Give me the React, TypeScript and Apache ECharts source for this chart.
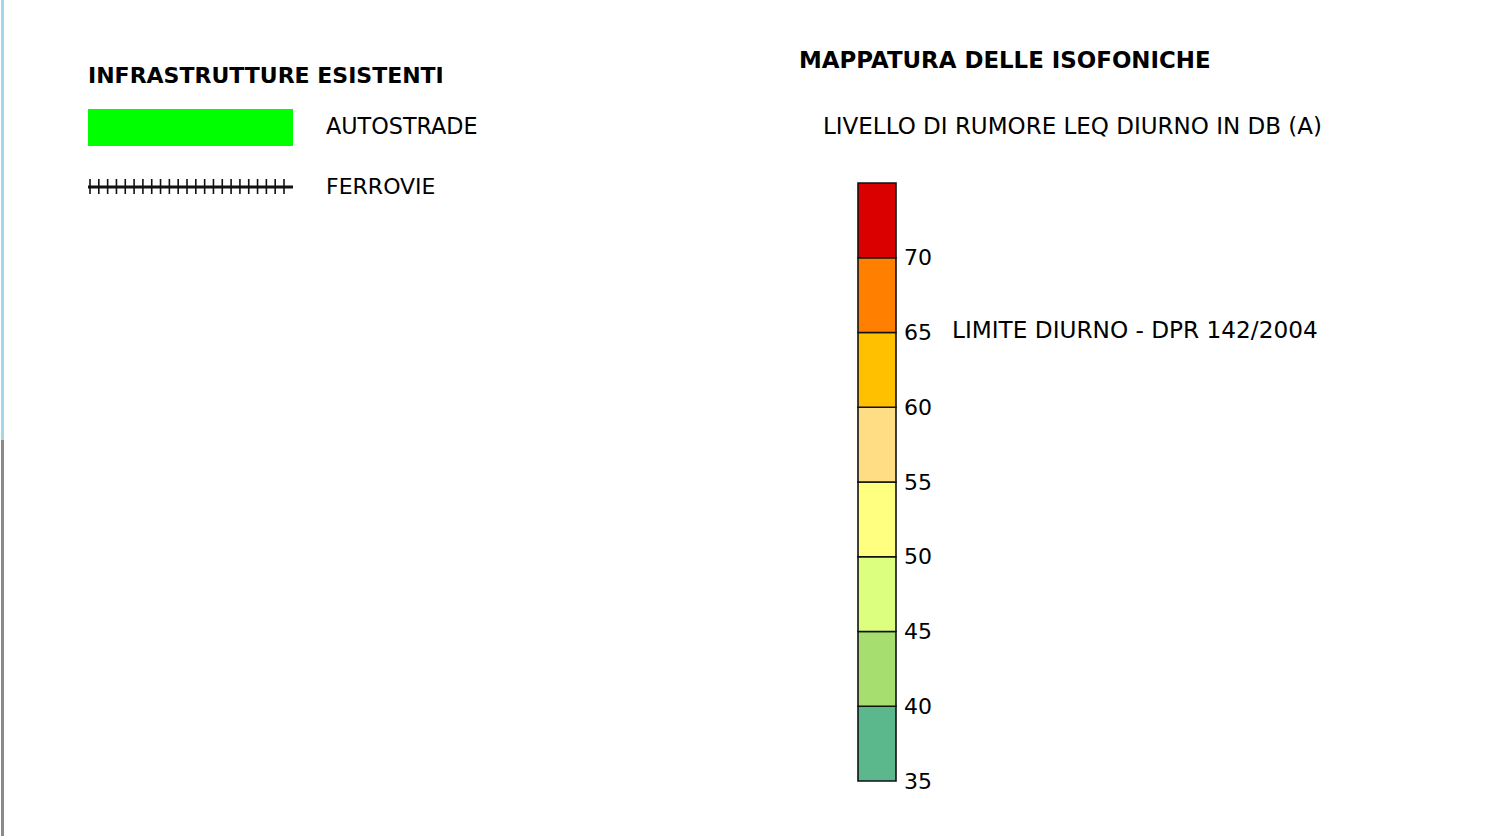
import React, { useEffect, useRef } from "react";
import * as echarts from "echarts";

const bandLower = [35, 40, 45, 50, 55, 60, 65, 70];
const bandUpper = [40, 45, 50, 55, 60, 65, 70, 75];
const bandColors = ["#5ab88c", "#a6de70", "#dcff80", "#ffff80", "#ffdd85", "#ffc000", "#ff8000", "#da0000"];
const tickValues = [35, 40, 45, 50, 55, 60, 65, 70];
const legendTitle = "INFRASTRUTTURE ESISTENTI";
const legendItems = ["AUTOSTRADE", "FERROVIE"];
const mapTitle = "MAPPATURA DELLE ISOFONICHE";
const mapSubtitle = "LIVELLO DI RUMORE LEQ DIURNO IN DB (A)";
const limitLabel = "LIMITE DIURNO - DPR 142/2004";
const limitValue = 65;

const FONT = "'DejaVu Sans', sans-serif";

export default function App() {
  const ref = useRef<HTMLDivElement>(null);
  useEffect(() => {
    document.body.style.margin = "0";
    const chart = echarts.init(ref.current!, null, { renderer: "svg" });
    const ties: any[] = [];
    const tieCount = 23;
    for (let i = 0; i < tieCount; i++) {
      const x = 90 + i * (194 / (tieCount - 1));
      ties.push({ id: "tie" + i, type: "line", shape: { x1: x, y1: 179, x2: x, y2: 194 }, style: { stroke: "#111", lineWidth: 1.6 } });
    }
    chart.setOption({
      animation: false,
      grid: { left: 858, top: 183, width: 38, height: 598 },
      xAxis: { type: "value", min: 0, max: 1, show: false },
      yAxis: {
        type: "value",
        min: 35,
        max: 75,
        interval: 5,
        position: "right",
        axisLine: { show: false },
        axisTick: { show: false },
        splitLine: { show: false },
        axisLabel: {
          fontSize: 22,
          color: "#000",
          margin: 8,
          fontFamily: FONT,
          formatter: (v: number) => (tickValues.includes(v) ? String(v) : ""),
        },
      },
      series: [
        {
          type: "custom",
          data: bandLower.map((lo, i) => [lo, bandUpper[i], i]),
          renderItem: (params: any, api: any) => {
            const lo = api.value(0);
            const hi = api.value(1);
            const idx = api.value(2);
            const p1 = api.coord([0, hi]);
            const p2 = api.coord([1, lo]);
            return {
              type: "rect",
              shape: { x: p1[0], y: p1[1], width: p2[0] - p1[0], height: p2[1] - p1[1] },
              style: { fill: bandColors[idx], stroke: "#111", lineWidth: 1.6 },
            };
          },
        },
      ],
      graphic: [
        { id: "edgeTop", type: "rect", shape: { x: 1, y: 0, width: 3, height: 440 }, style: { fill: "#a3d6e6" } },
        { id: "edgeBot", type: "rect", shape: { x: 1, y: 440, width: 3, height: 396 }, style: { fill: "#8a8a8a" } },
        {
          id: "legTitle",
          type: "text",
          x: 88,
          y: 75,
          style: { text: legendTitle, font: `bold 22px ${FONT}`, fill: "#000", textVerticalAlign: "middle" },
        },
        { id: "roadRect", type: "rect", shape: { x: 88, y: 109, width: 205, height: 37 }, style: { fill: "#00ff00" } },
        {
          id: "roadText",
          type: "text",
          x: 326,
          y: 126,
          style: { text: legendItems[0], font: `22.3px ${FONT}`, fill: "#000", textVerticalAlign: "middle" },
        },
        { id: "railLine", type: "line", shape: { x1: 88, y1: 187, x2: 293, y2: 187 }, style: { stroke: "#111", lineWidth: 3 } },
        ...ties,
        {
          id: "railText",
          type: "text",
          x: 326,
          y: 186,
          style: { text: legendItems[1], font: `22px ${FONT}`, fill: "#000", textVerticalAlign: "middle" },
        },
        {
          id: "mapTitle",
          type: "text",
          x: 799,
          y: 60,
          style: { text: mapTitle, font: `bold 22.9px ${FONT}`, fill: "#000", textVerticalAlign: "middle" },
        },
        {
          id: "mapSub",
          type: "text",
          x: 823,
          y: 126,
          style: { text: mapSubtitle, font: `23px ${FONT}`, fill: "#000", textVerticalAlign: "middle" },
        },
      ],
    });
    const y65 = chart.convertToPixel({ gridIndex: 0 }, [0, limitValue]);
    chart.setOption({
      graphic: [
        {
          id: "limitText",
          type: "text",
          x: 952,
          y: y65 ? y65[1] - 3 : 330,
          style: { text: limitLabel, font: `23.2px ${FONT}`, fill: "#000", textVerticalAlign: "middle" },
        },
      ],
    });
    return () => chart.dispose();
  }, []);
  return <div ref={ref} style={{ width: 1499, height: 836 }} />;
}
